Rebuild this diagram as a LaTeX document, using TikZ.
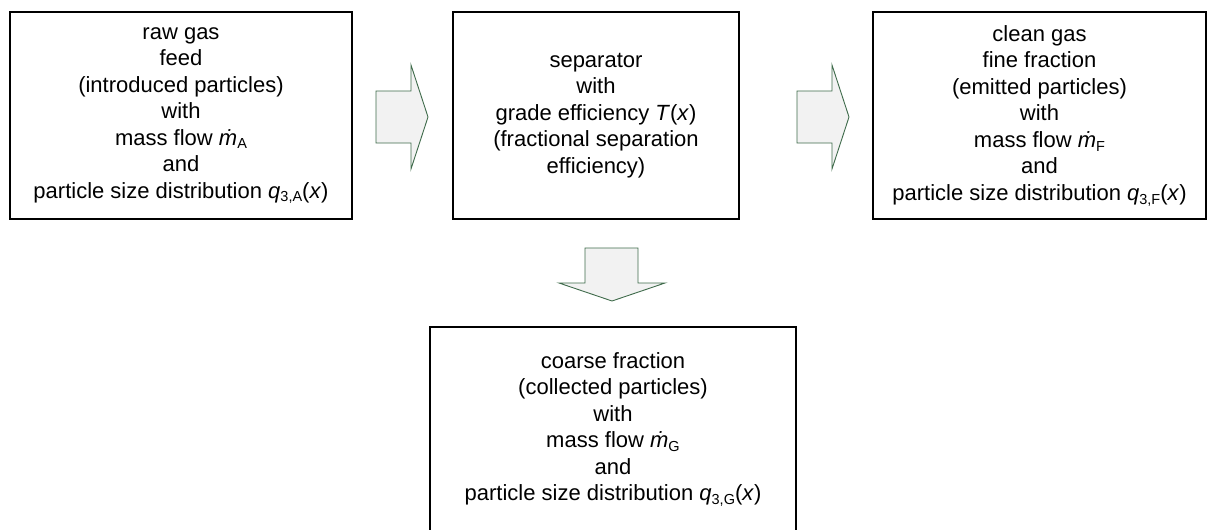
\documentclass[tikz,border=0pt]{standalone}
\usepackage{fontspec}
\setmainfont{Liberation Sans}
\newcommand{\sbs}[1]{\raisebox{-0.18em}{\fontsize{14.5}{14.5}\selectfont #1}}
\newcommand{\mdot}{\textit{\.m}}
\definecolor{arrowfill}{HTML}{F2F2F2}
\definecolor{arrowline}{HTML}{3F6B4B}
\tikzset{
  box/.style={draw=black, line width=1.3pt, inner sep=0pt, align=center,
    font=\fontsize{22}{26.5}\selectfont},
  blockarrow/.style={draw=arrowline, fill=arrowfill, line width=0.9pt, line join=miter}
}
\begin{document}
\begin{tikzpicture}[x=1pt,y=-1pt]
\useasboundingbox (0,0) rectangle (1208,530);
\node[box, minimum width=342pt, minimum height=207pt] (feed) at (181,115.5)
  {raw gas\\feed\\(introduced particles)\\with\\mass flow \mdot\sbs{A}\\and\\particle size distribution \textit{q}\sbs{3,A}(\textit{x})};
\node[box, minimum width=286pt, minimum height=207pt] (sep) at (596,115.5)
  {separator\\with\\grade efficiency \textit{T}(\textit{x})\\(fractional separation\\efficiency)};
\node[box, minimum width=333pt, minimum height=207pt] (fine) at (1039.5,115.5)
  {clean gas\\fine fraction\\(emitted particles)\\with\\mass flow \mdot\sbs{F}\\and\\particle size distribution \textit{q}\sbs{3,F}(\textit{x})};
\node[box, minimum width=366pt, minimum height=205pt] (coarse) at (613,429.5)
  {coarse fraction\\(collected particles)\\with\\mass flow \mdot\sbs{G}\\and\\particle size distribution \textit{q}\sbs{3,G}(\textit{x})};
% block arrows
\draw[blockarrow] (376,91) -- (411,91) -- (411,65) -- (428,117) -- (411,169) -- (411,143) -- (376,143) -- cycle;
\draw[blockarrow] (797,91) -- (832,91) -- (832,65) -- (849,117) -- (832,169) -- (832,143) -- (797,143) -- cycle;
\draw[blockarrow] (585,248) -- (638,248) -- (638,283) -- (665,283) -- (612,301) -- (559,283) -- (585,283) -- cycle;
\end{tikzpicture}
\end{document}
